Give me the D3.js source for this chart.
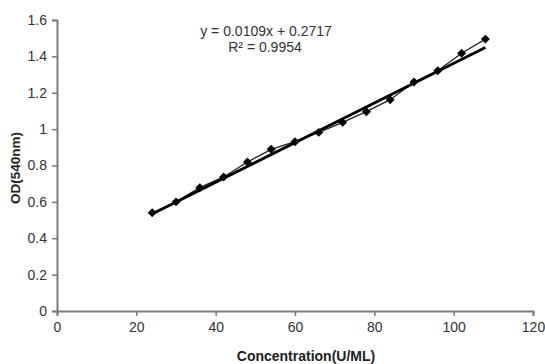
<!DOCTYPE html>
<html>
<head>
<meta charset="utf-8">
<script src="https://cdn.jsdelivr.net/npm/d3@7"></script>
<style>
  html, body { margin: 0; padding: 0; background: #fff; }
  svg { display: block; font-family: "Liberation Sans", Arial, sans-serif; }
</style>
</head>
<body>
<div id="chart"></div>
<script>
// Standard curve data
const concentration = [24, 30, 36, 42, 48, 54, 60, 66, 72, 78, 84, 90, 96, 102, 108];
const od540 = [0.54, 0.60, 0.678, 0.737, 0.819, 0.889, 0.931, 0.982, 1.037, 1.096, 1.162, 1.259, 1.321, 1.417, 1.495];
const xTicks = [0, 20, 40, 60, 80, 100, 120];
const yTicks = [0, 0.2, 0.4, 0.6, 0.8, 1, 1.2, 1.4, 1.6];
const trendSlope = 0.0109;
const trendIntercept = 0.2717;
const equationLabel = "y = 0.0109x + 0.2717";
const r2Label = "R\u00b2 = 0.9954";

(function () {
  const w = 545, h = 364;
  const m = { left: 57, right: 12, top: 20, bottom: 53 };

  const svg = d3.select("#chart").append("svg")
    .attr("width", w).attr("height", h);

  const x = d3.scaleLinear().domain([0, 120]).range([m.left, w - m.right]);
  const y = d3.scaleLinear().domain([0, 1.6]).range([h - m.bottom, m.top]);

  const axisColor = "#7a7a7a";
  const labelColor = "#333";

  // X axis
  const gx = svg.append("g")
    .attr("transform", `translate(0,${h - m.bottom})`)
    .call(d3.axisBottom(x).tickValues(xTicks).tickSize(5).tickPadding(6).tickFormat(d3.format("d")));
  // Y axis
  const gy = svg.append("g")
    .attr("transform", `translate(${m.left},0)`)
    .call(d3.axisLeft(y).tickValues(yTicks).tickSize(5).tickPadding(5).tickFormat(d => d3.format("~g")(d)));

  [gx, gy].forEach(g => {
    g.select(".domain").attr("stroke", axisColor).attr("stroke-width", 2);
    g.selectAll(".tick line").attr("stroke", axisColor).attr("stroke-width", 1.5);
    g.selectAll(".tick text")
      .attr("fill", labelColor)
      .attr("font-size", "14px")
      .attr("font-family", "'Liberation Sans', Arial, sans-serif");
  });

  // Data series line
  const line = d3.line().x(d => x(d[0])).y(d => y(d[1]));
  const pts = concentration.map((c, i) => [c, od540[i]]);
  svg.append("path")
    .datum(pts)
    .attr("d", line)
    .attr("fill", "none")
    .attr("stroke", "#222")
    .attr("stroke-width", 1.3);

  // Diamond markers
  const diamond = d3.symbol().type(d3.symbolSquare).size(40);
  svg.selectAll("path.marker")
    .data(pts)
    .enter().append("path")
    .attr("class", "marker")
    .attr("d", diamond)
    .attr("transform", d => `translate(${x(d[0])},${y(d[1])}) rotate(45)`)
    .attr("fill", "#000");

  // Linear trendline
  const xExt = d3.extent(concentration);
  svg.append("path")
    .datum(xExt.map(c => [c, trendSlope * c + trendIntercept]))
    .attr("d", line)
    .attr("fill", "none")
    .attr("stroke", "#000")
    .attr("stroke-width", 2.8);

  // Equation label
  svg.append("text")
    .attr("x", 266).attr("y", 36)
    .attr("text-anchor", "middle")
    .attr("font-size", "14px")
    .attr("fill", labelColor)
    .text(equationLabel);
  svg.append("text")
    .attr("x", 265).attr("y", 52)
    .attr("text-anchor", "middle")
    .attr("font-size", "14px")
    .attr("fill", labelColor)
    .text(r2Label);

  // Axis titles
  svg.append("text")
    .attr("x", 306).attr("y", 361)
    .attr("text-anchor", "middle")
    .attr("font-size", "14px")
    .attr("font-weight", "bold")
    .attr("fill", "#222")
    .text("Concentration(U/ML)");
  svg.append("text")
    .attr("transform", "translate(20,168) rotate(-90)")
    .attr("text-anchor", "middle")
    .attr("font-size", "13.5px")
    .attr("font-weight", "bold")
    .attr("fill", "#222")
    .text("OD(540nm)");
})();
</script>
</body>
</html>
